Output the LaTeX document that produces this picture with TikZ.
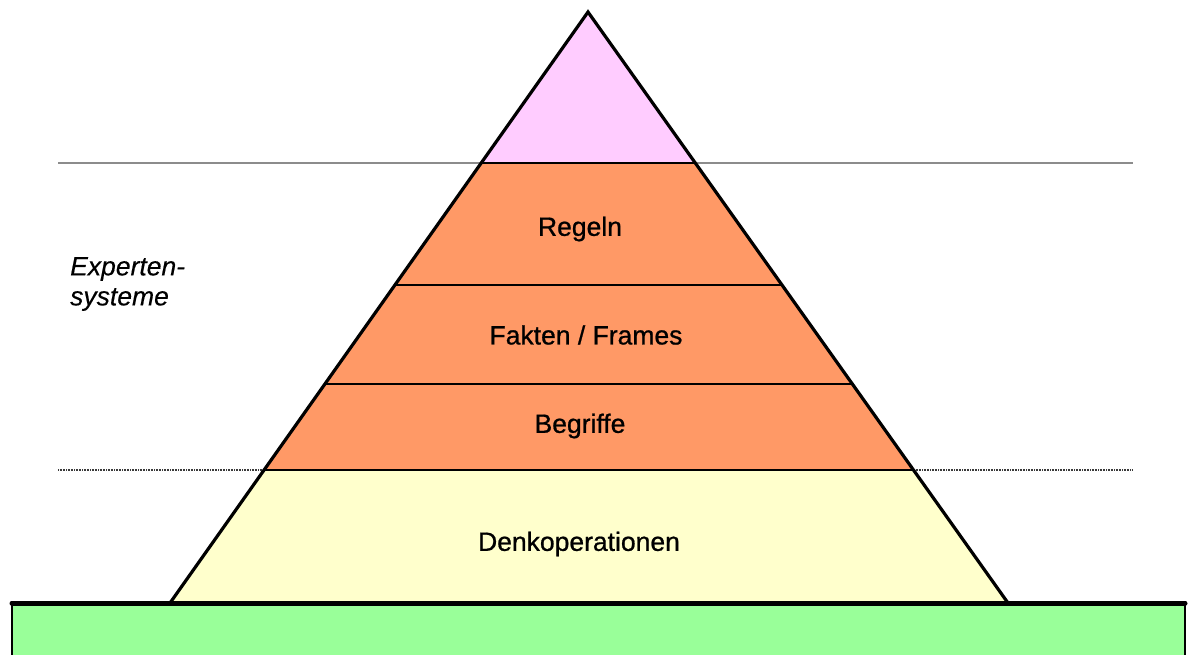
\documentclass[tikz,border=0pt]{standalone}
\usepackage{fontspec}
\setmainfont{Liberation Sans}
\newfontfamily\layerfont[FakeBold=0.8]{Liberation Sans}
\newfontfamily\sidefont[FakeBold=0.3]{Liberation Sans}
\usetikzlibrary{calc}
\definecolor{tipPink}{HTML}{FFCCFF}
\definecolor{layerOrange}{HTML}{FF9966}
\definecolor{baseYellow}{HTML}{FFFFCC}
\definecolor{groundGreen}{HTML}{99FF99}
\definecolor{guideGray}{HTML}{8C8C8C}
\definecolor{guideDark}{HTML}{3A3A3A}

\begin{document}
\begin{tikzpicture}[x=1pt, y=-1pt,
  divider/.style={draw=black, line width=1.6pt},
  outline/.style={draw=black, line width=3.2pt, line join=miter},
  layerlabel/.style={font=\layerfont\fontsize{26.5}{30}\selectfont, inner sep=0pt, text=black},
  sidelabel/.style={font=\sidefont\fontsize{26.5}{30}\selectfont\itshape, inner sep=0pt, align=left, anchor=west, text=black},
  upperguide/.style={draw=guideGray, line width=1.6pt},
  lowerguide/.style={draw=guideDark, line width=1.2pt, dash pattern=on 1pt off 0.6pt}]
\useasboundingbox (0,0) rectangle (1192,654);
\clip (0,0) rectangle (1192,654);
\fill[white] (0,0) rectangle (1192,654);

% corners of the pyramid
\coordinate (apex) at (588,12);
\coordinate (bl) at (170,603);
\coordinate (br) at (1008,603);

% points on the sloped edges at each layer boundary
\coordinate (l1) at ($(apex)!0.2555!(bl)$);
\coordinate (r1) at ($(apex)!0.2555!(br)$);
\coordinate (l2) at ($(apex)!0.4619!(bl)$);
\coordinate (r2) at ($(apex)!0.4619!(br)$);
\coordinate (l3) at ($(apex)!0.6294!(bl)$);
\coordinate (r3) at ($(apex)!0.6294!(br)$);
\coordinate (l4) at ($(apex)!0.7750!(bl)$);
\coordinate (r4) at ($(apex)!0.7750!(br)$);

% guide lines across the page
\coordinate (g1a) at (58,163);
\coordinate (g1b) at (1133,163);
\coordinate (g2a) at (58,470);
\coordinate (g2b) at (1133,470);
\draw[upperguide] (g1a) -- (g1b);
\draw[lowerguide] (g2a) -- (g2b);

% layer fills
\fill[tipPink] (apex) -- (r1) -- (l1) -- cycle;
\fill[layerOrange] (l1) -- (r1) -- (r4) -- (l4) -- cycle;
\fill[baseYellow] (l4) -- (r4) -- (br) -- (bl) -- cycle;

% layer dividers
\draw[divider] (l1) -- (r1);
\draw[divider] (l2) -- (r2);
\draw[divider] (l3) -- (r3);
\draw[divider] (l4) -- (r4);

% pyramid sides
\draw[outline] (bl) -- (apex) -- (br);

% ground slab
\coordinate (gtl) at (12,603);
\coordinate (gtr) at (1185,603);
\coordinate (gbl) at (12,670);
\coordinate (gbr) at (1185,670);
\filldraw[fill=groundGreen, draw=black, line width=2pt] (gbl) -- (gtl) -- (gtr) -- (gbr);
\draw[line width=5pt, line cap=round] (gtl) -- (gtr);

% labels
\node[layerlabel] (regeln) at (580,229) {Regeln};
\node[layerlabel] (fakten) at (586,335) {Fakten / Frames};
\node[layerlabel] (begriffe) at (580,426) {Begriffe};
\node[layerlabel] (denk) at (579,544) {Denkoperationen};
\node[sidelabel] (experten) at (70,284) {Experten-\\systeme};
\end{tikzpicture}
\end{document}
